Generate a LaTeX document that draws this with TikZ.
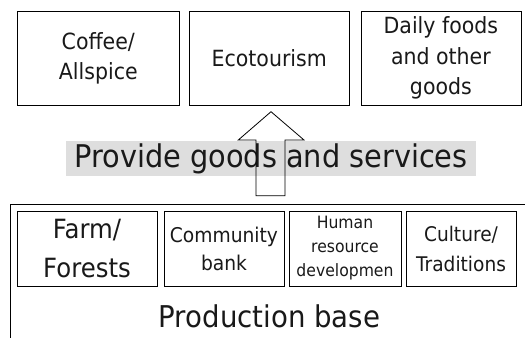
\documentclass[tikz,border=0pt]{standalone}
\usepackage{fontspec}
\setmainfont{DejaVu Sans}[FakeStretch=0.92]
\definecolor{lblgray}{RGB}{222,222,222}
\tikzset{
  box/.style={draw=black, line width=0.8pt, inner sep=0pt, align=center, text=black!90},
  topbox/.style={box, minimum height=94pt, font=\fontsize{22.3}{30.5}\selectfont},
  basebox/.style={box, minimum height=75pt},
}
\begin{document}
\begin{tikzpicture}[x=1pt,y=-1pt]
\useasboundingbox (0,0) rectangle (525,338);
% top boxes
\node[topbox, minimum width=162pt] (coffee) at (98.3,58.3) {Coffee/\\Allspice};
\node[topbox, minimum width=160pt] (eco) at (269.2,58.3) {Ecotourism};
\node[topbox, minimum width=160pt] (daily) at (440.9,58.3) {Daily foods\\and other\\goods};
% label
\node[fill=lblgray, minimum width=410pt, minimum height=35pt, inner sep=0pt,
      font=\fontsize{31.3}{36}\selectfont, text=black!90] (prov) at (271,158.5) {Provide goods and services};
% block arrow
\draw[line width=0.8pt, line join=miter]
  (256,195.7) -- (256,140) -- (238.3,140) -- (271,111.7) -- (304,140)
  -- (285,140) -- (285,195.7) -- cycle;
% production base frame
\draw[line width=0.8pt] (525,204.5) -- (10,204.5) -- (10,338);
\node[basebox, minimum width=140pt, font=\fontsize{26.5}{39}\selectfont] (farm) at (87,248.5) {Farm/\\Forests};
\node[basebox, minimum width=120pt, font=\fontsize{20.3}{28}\selectfont] (bank) at (224,248.5) {Community\\bank};
\node[basebox, minimum width=112pt, font=\fontsize{17}{24}\selectfont] (human) at (345,248.5) {Human\\resource\\developmen};
\node[basebox, minimum width=110pt, font=\fontsize{20.2}{30}\selectfont] (culture) at (461,248.5) {Culture/\\Traditions};
\node[anchor=base, inner sep=0pt, font=\fontsize{30}{34}\selectfont, text=black!90] (pbase) at (269.5,327) {Production base};
\end{tikzpicture}
\end{document}
